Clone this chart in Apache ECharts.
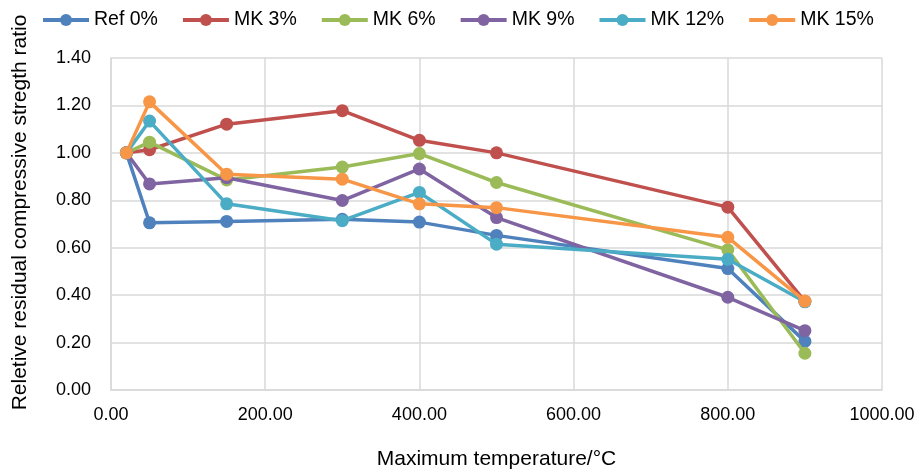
<!DOCTYPE html>
<html>
<head>
<meta charset="utf-8">
<script src="https://cdn.jsdelivr.net/npm/echarts@6/dist/echarts.min.js"></script>
<style>
  html, body { margin: 0; padding: 0; background: #fff; }
  #chart { width: 915px; height: 470px; }
</style>
</head>
<body>
<div id="chart"></div>
<script>
// ---- data ----
var temps = [20, 50, 150, 300, 400, 500, 800, 900];

var ref0  = [1.00, 0.705, 0.711, 0.720, 0.708, 0.652, 0.512, 0.205];
var mk3   = [1.00, 1.013, 1.121, 1.178, 1.053, 1.000, 0.771, 0.374];
var mk6   = [1.00, 1.045, 0.886, 0.940, 0.997, 0.875, 0.591, 0.155];
var mk9   = [1.00, 0.869, 0.895, 0.799, 0.932, 0.727, 0.391, 0.250];
var mk12  = [1.00, 1.134, 0.785, 0.714, 0.833, 0.615, 0.551, 0.372];
var mk15  = [1.00, 1.215, 0.910, 0.889, 0.785, 0.769, 0.644, 0.375];

var seriesNames  = ["Ref 0%", "MK 3%", "MK 6%", "MK 9%", "MK 12%", "MK 15%"];
var seriesValues = [ref0, mk3, mk6, mk9, mk12, mk15];
var seriesColors = ["#4F81BD", "#C0504D", "#9BBB59", "#8064A2", "#4BACC6", "#F79646"];

var FONT = "Liberation Sans, Arial, sans-serif";

function pairs(vals) {
  return temps.map(function(t, i) { return [t, vals[i]]; });
}

var chart = echarts.init(document.getElementById("chart"), null, { renderer: "canvas" });

chart.setOption({
  animation: false,
  color: seriesColors,
  textStyle: { fontFamily: FONT },

  legend: {
    data: seriesNames,
    top: 5,
    left: 36,
    itemWidth: 46,
    itemHeight: 15,
    itemGap: 23,
    lineStyle: { width: 4 },
    textStyle: { fontSize: 19.5, color: "#000", fontFamily: FONT }
  },

  grid: { left: 111, right: 33, top: 58, bottom: 80, containLabel: false, outerBoundsMode: "none" },

  xAxis: {
    type: "value",
    min: 0,
    max: 1000,
    interval: 200,
    name: "Maximum temperature/°C",
    nameLocation: "middle",
    nameGap: 59,
    nameTextStyle: { fontSize: 21, color: "#000", fontFamily: FONT },
    axisLine: { show: true, lineStyle: { color: "#d9d9d9", width: 1.5 } },
    axisTick: { show: false },
    axisLabel: {
      fontSize: 18, color: "#000", margin: 16,
      formatter: function(v) { return v.toFixed(2); }
    },
    splitLine: { show: true, lineStyle: { color: "#d9d9d9", width: 1.5 } }
  },

  yAxis: {
    type: "value",
    min: 0,
    max: 1.4,
    interval: 0.2,
    name: "Reletive residual compressive stregth ratio",
    nameLocation: "middle",
    nameGap: 80,
    nameTextStyle: { fontSize: 21, color: "#000", fontFamily: FONT, padding: [0, 0, 0, 23] },
    axisLine: { show: true, lineStyle: { color: "#d9d9d9", width: 1.5 } },
    axisTick: { show: false },
    axisLabel: {
      fontSize: 18, color: "#000", margin: 20,
      formatter: function(v) { return v.toFixed(2); }
    },
    splitLine: { show: true, lineStyle: { color: "#d9d9d9", width: 1.5 } }
  },

  series: seriesNames.map(function(name, k) {
    return {
      name: name,
      type: "line",
      data: pairs(seriesValues[k]),
      symbol: "circle",
      symbolSize: 13,
      showSymbol: true,
      lineStyle: { width: 3.5, color: seriesColors[k] },
      itemStyle: { color: seriesColors[k] },
      z: 2 + k
    };
  })
});
</script>
</body>
</html>
